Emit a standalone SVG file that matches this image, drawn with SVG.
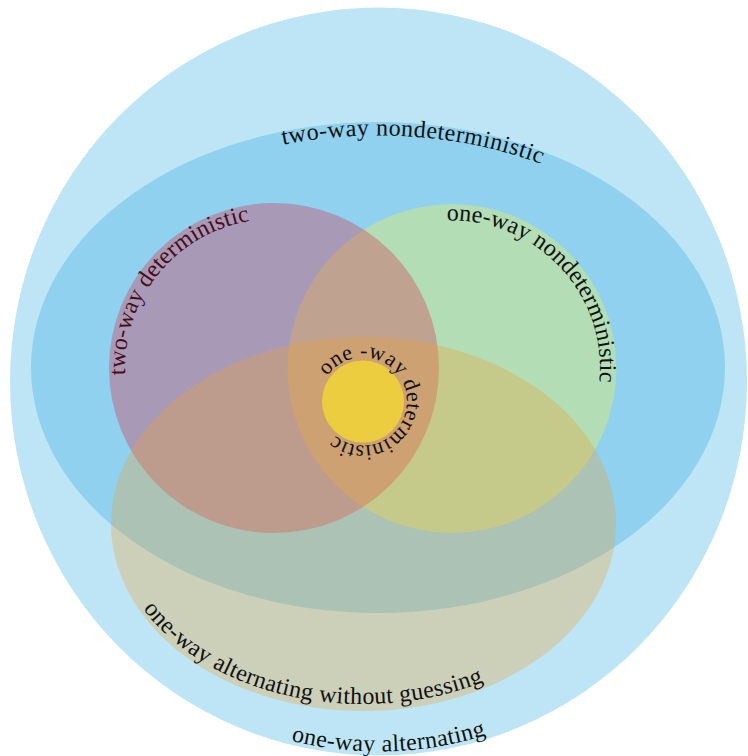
<svg xmlns="http://www.w3.org/2000/svg" width="748" height="756" viewBox="0 0 748 756">
  <style>
    .lbl { font-family: "Liberation Serif", "Times New Roman", serif; font-size: 24px; fill: #111; }
    .small { font-size: 22px; }
    .maroon { fill: #4a0c18; }
  </style>
  <defs>
    <path id="p-alt" d="M 291 740.7 A 365 370 0 0 0 561 701.9"/>
    <path id="p-2nd" d="M 283 144.7 A 340 232 0 0 1 718 367.5"/>
    <path id="p-2d" d="M 125.2 375 A 149 149 0 0 1 348.5 239"/>
    <path id="p-1nd" d="M 446.8 220.6 A 148 148 0 0 1 580.2 442.5"/>
    <path id="p-awg" d="M 143 608.8 A 250 180 0 0 0 598.4 585.6"/>
    <path id="p-1d" d="M 327.07 376.11 A 44 44 0 0 1 402.97 383.11 A 44 44 0 0 1 358.93 445.31 A 44 44 0 0 1 319 401.5"/>
  </defs>

  <rect width="748" height="756" fill="#ffffff"/>

  <g id="one-way-alternating">
    <ellipse cx="378.5" cy="381.5" rx="368.5" ry="374" fill="#bee5f5"/>
    <text class="lbl" letter-spacing="0.35"><textPath href="#p-alt">one-way alternating</textPath></text>
  </g>

  <g id="two-way-nondeterministic">
    <ellipse cx="378" cy="367.5" rx="347" ry="245.5" fill="#8fd1ee"/>
    <text class="lbl" letter-spacing="0.45"><textPath href="#p-2nd">two-way nondeterministic</textPath></text>
  </g>

  <g id="one-way-nondeterministic">
    <circle cx="452" cy="368.5" r="164.5" fill="rgb(252,245,65)" fill-opacity="0.33"/>
    <text class="lbl" letter-spacing="0.05"><textPath href="#p-1nd">one-way nondeterministic</textPath></text>
  </g>

  <g id="two-way-deterministic">
    <circle cx="274" cy="368" r="165" fill="rgb(219,42,74)" fill-opacity="0.33"/>
    <text class="lbl maroon" letter-spacing="0.05"><textPath href="#p-2d">two-way deterministic</textPath></text>
  </g>

  <g id="one-way-alternating-without-guessing">
    <ellipse cx="363.5" cy="524" rx="252.5" ry="187" fill="rgb(237,159,45)" fill-opacity="0.3"/>
    <text class="lbl" letter-spacing="0.3"><textPath href="#p-awg">one-way alternating without guessing</textPath></text>
  </g>

  <g id="one-way-deterministic">
    <circle cx="363" cy="401.5" r="41" fill="#eccd40"/>
    <text class="lbl small" letter-spacing="0.4"><textPath href="#p-1d">one -way deterministic</textPath></text>
  </g>
</svg>
